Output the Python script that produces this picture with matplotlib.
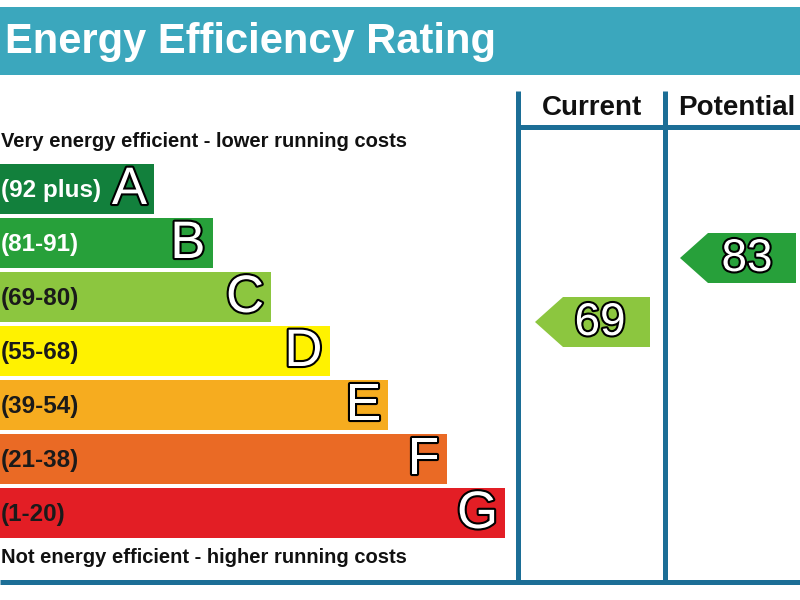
import matplotlib
matplotlib.use("Agg")
import matplotlib.pyplot as plt
from matplotlib.patches import Rectangle, Polygon
import matplotlib.patheffects as pe

# ---- data ----
bands = ['A', 'B', 'C', 'D', 'E', 'F', 'G']
range_labels = ['(92 plus)', '(81-91)', '(69-80)', '(55-68)', '(39-54)', '(21-38)', '(1-20)']
band_lo = [92, 81, 69, 55, 39, 21, 1]
band_hi = [100, 91, 80, 68, 54, 38, 20]
band_colors = ['#12803c', '#27a03a', '#8cc63f', '#fff200', '#f6ac1f', '#ea6a25', '#e31e25']
label_colors = ['white', 'white', '#1a1a1a', '#1a1a1a', '#1a1a1a', '#1a1a1a', '#1a1a1a']
current_rating = 69
potential_rating = 83
title = 'Energy Efficiency Rating'
top_note = 'Very energy efficient - lower running costs'
bottom_note = 'Not energy efficient - higher running costs'
col_headers = ['Current', 'Potential']

# ---- layout ----
FONT = 'Liberation Sans'
TEAL = '#3ba7bd'
LINE = '#1c6e96'
row_top0, pitch, bar_h = 164, 54, 50
w0, dw = 154, 58.5

fig = plt.figure(figsize=(8, 6), dpi=100)
ax = fig.add_axes([0, 0, 1, 1])
ax.set_xlim(0, 800)
ax.set_ylim(600, 0)
ax.axis('off')

# title banner
ax.add_patch(Rectangle((0, 7), 800, 68, color=TEAL, lw=0))
ax.text(5, 53, title, color='white', fontsize=30, fontweight='bold',
        family=FONT, va='baseline', ha='left')

# notes
ax.text(1, 147, top_note, fontsize=14.5, fontweight='bold', family=FONT,
        va='baseline', ha='left', color='#111111')
ax.text(1, 563, bottom_note, fontsize=14.5, fontweight='bold', family=FONT,
        va='baseline', ha='left', color='#111111')

outline = [pe.withStroke(linewidth=3, foreground='black')]

# bars
centers = [row_top0 + pitch * i + bar_h / 2 for i in range(len(bands))]
widths = [w0 + dw * i for i in range(len(bands))]
ax.barh(centers, widths, height=bar_h, left=0, color=band_colors, lw=0)
for i, b in enumerate(bands):
    ax.text(1, centers[i] + 2, range_labels[i], fontsize=17.5, fontweight='bold',
            family=FONT, color=label_colors[i], va='center', ha='left')
    ax.text(widths[i] - 7, centers[i] + 1, b, fontsize=38, family=FONT,
            color='white', va='center', ha='right', path_effects=outline)

# columns
ax.plot([518, 518], [91, 582], color=LINE, lw=3.6, solid_capstyle='butt')
ax.plot([665, 665], [91, 582], color=LINE, lw=3.6, solid_capstyle='butt')
ax.plot([518, 800], [127, 127], color=LINE, lw=3.6, solid_capstyle='butt')
ax.plot([0, 800], [582, 582], color=LINE, lw=3.6, solid_capstyle='butt')
ax.text(592, 115, col_headers[0], fontsize=20, fontweight='bold', family=FONT,
        ha='center', va='baseline', color='#111111')
ax.text(678, 115, col_headers[1], fontsize=20, fontweight='bold', family=FONT,
        ha='left', va='baseline', color='#111111')


def rating_y(v):
    for i in range(len(bands)):
        if band_lo[i] <= v <= band_hi[i]:
            top = row_top0 + pitch * i
            return top + bar_h - (v - band_lo[i]) / (band_hi[i] - band_lo[i]) * bar_h, i
    return centers[-1], len(bands) - 1


def arrow(v, x_tip, x_body, x_end, text_x):
    yc, i = rating_y(v)
    h = bar_h / 2
    poly = Polygon([(x_tip, yc), (x_body, yc - h), (x_end, yc - h),
                    (x_end, yc + h), (x_body, yc + h)], closed=True,
                   color=band_colors[i], lw=0)
    ax.add_patch(poly)
    ax.text(text_x, yc + 1, str(v), fontsize=33, family=FONT, color='white',
            ha='center', va='center', path_effects=outline)


arrow(current_rating, 535, 563, 650, 600)
arrow(potential_rating, 680, 708, 796, 747)

fig.savefig('out.png', dpi=100)
